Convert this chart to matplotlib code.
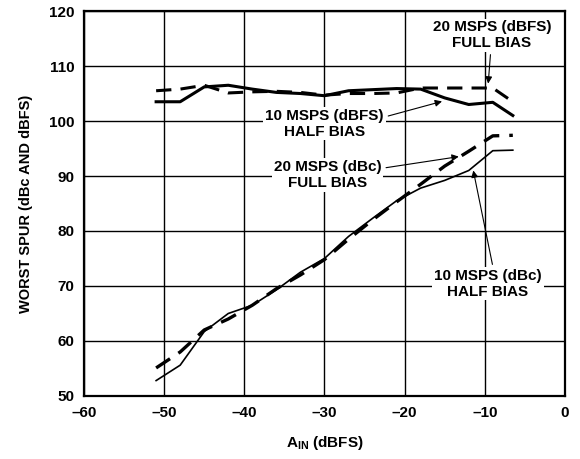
import matplotlib
matplotlib.use('Agg')
import matplotlib.pyplot as plt

plt.rcParams['font.family'] = ['Liberation Sans', 'DejaVu Sans']
plt.rcParams['font.weight'] = 'bold'
plt.rcParams['mathtext.fontset'] = 'custom'
plt.rcParams['mathtext.bf'] = 'Liberation Sans:bold'

# input level (dBFS)
ain = [-51, -48, -45, -42, -39, -36, -33, -30, -27, -24, -21, -18, -15, -12, -9, -6.5]

# worst spur curves
spur10_dbfs = [103.5, 103.5, 106.2, 106.5, 105.8, 105.2, 105.0, 104.6, 105.5, 105.7, 105.9, 105.8, 104.2, 103.0, 103.4, 101.0]
spur20_dbfs = [105.5, 105.8, 106.5, 105.1, 105.3, 105.4, 105.2, 104.7, 105.0, 105.0, 105.1, 106.0, 106.0, 106.0, 106.0, 103.5]
spur10_dbc = [52.8, 55.6, 61.7, 65.0, 66.5, 69.3, 72.5, 75.0, 79.0, 82.3, 85.5, 87.8, 89.2, 91.0, 94.6, 94.7]
spur20_dbc = [55.1, 58.0, 62.0, 64.0, 66.5, 69.5, 72.0, 74.8, 78.5, 82.0, 85.3, 88.5, 91.8, 94.5, 97.3, 97.4]

xticks = [-60, -50, -40, -30, -20, -10, 0]
yticks = [50, 60, 70, 80, 90, 100, 110, 120]

fig = plt.figure(figsize=(5.8, 4.59), dpi=100)
ax = fig.add_axes([0.1448, 0.1373, 0.8292, 0.8387])

ax.plot(ain, spur10_dbfs, color='black', lw=2.2)
ax.plot(ain, spur20_dbfs, color='black', lw=2.2, dashes=(5, 3))
ax.plot(ain, spur10_dbc, color='black', lw=1.2)
ax.plot(ain, spur20_dbc, color='black', lw=2.4, dashes=(5, 3))

ax.set_xlim(-60, 0)
ax.set_ylim(50, 120)
ax.set_xticks(xticks)
ax.set_yticks(yticks)
ax.set_xticklabels(['\u2013' + str(-t) if t < 0 else str(t) for t in xticks])
ax.tick_params(length=0, labelsize=11, pad=7)
ax.grid(True, color='black', lw=1.0)
ax.set_axisbelow(True)
for s in ax.spines.values():
    s.set_linewidth(1.6)

ax.set_ylabel('WORST SPUR (dBc AND dBFS)', fontsize=10.5, fontweight='bold', labelpad=11)
ax.set_xlabel(r'A$_\mathbf{IN}$ (dBFS)', fontsize=11, fontweight='bold', labelpad=10)

box = dict(boxstyle='square,pad=0.12', fc='white', ec='none')
arr = dict(arrowstyle='-|>', color='black', lw=0.8, mutation_scale=10)

ax.annotate('20 MSPS (dBFS)\nFULL BIAS', xy=(-9.6, 106.3), xytext=(-9.1, 115.6),
            ha='center', va='center', fontsize=11, linespacing=1.15,
            bbox=box, arrowprops=arr)
ax.annotate('10 MSPS (dBFS)\nHALF BIAS', xy=(-15, 103.7), xytext=(-30, 99.5),
            ha='center', va='center', fontsize=11, linespacing=1.15,
            bbox=box, arrowprops=dict(arr, relpos=(1.0, 0.72)))
ax.annotate('20 MSPS (dBc)\nFULL BIAS', xy=(-12.9, 93.6), xytext=(-29.6, 90.2),
            ha='center', va='center', fontsize=11, linespacing=1.15,
            bbox=box, arrowprops=dict(arr, relpos=(1.0, 0.72)))
ax.annotate('10 MSPS (dBc)\nHALF BIAS', xy=(-11.5, 91.5), xytext=(-9.6, 70.4),
            ha='center', va='center', fontsize=11, linespacing=1.15,
            bbox=box, arrowprops=dict(arr, relpos=(0.55, 1.0)))

fig.savefig('out.png', dpi=100)
